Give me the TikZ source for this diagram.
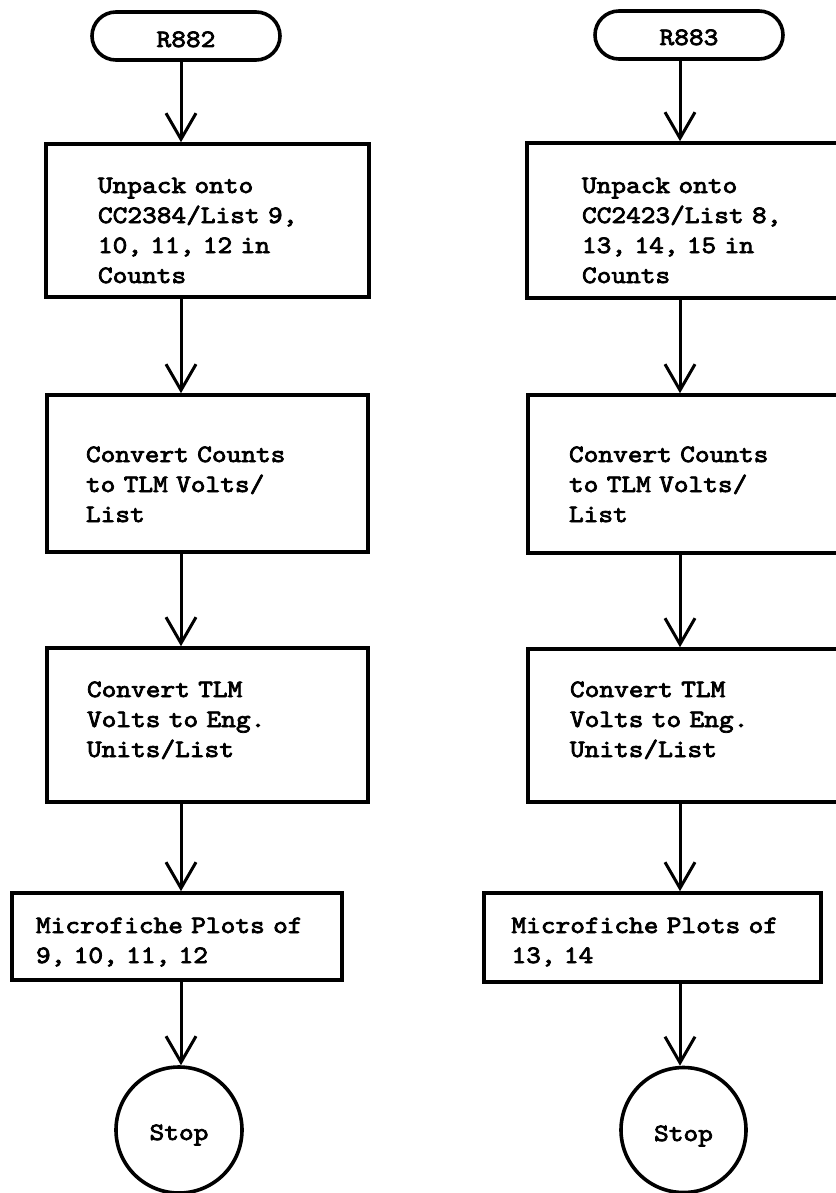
\documentclass[tikz,border=0pt]{standalone}
\usepackage{fontspec}
\newfontfamily\typefont[FakeStretch=1.12,FakeBold=3,WordSpace=1.12]{lmmono10-regular.otf}
\newcommand{\boxfont}{\typefont\fontsize{12.5}{15}\selectfont\spaceskip 7.35pt\relax}
\usetikzlibrary{positioning}
\usetikzlibrary{arrows.meta}
\tikzset{>={Straight Barb[length=13pt,width=15pt]}}

\begin{document}
\begin{tikzpicture}[
    x=0.5pt, y=-0.5pt,
    every node/.style={font=\boxfont},
    terminal/.style={
        draw,
        line width=1.8pt,
        rectangle,
        rounded corners=12pt,
        minimum width=94pt,
        minimum height=24pt,
        inner sep=0pt,
        text depth=0pt
    },
    process/.style={
        draw,
        line width=1.8pt,
        rectangle,
        align=left,
        inner sep=0pt,
        text height=0pt
    },
    halt/.style={
        draw,
        line width=1.8pt,
        circle,
        minimum size=63pt,
        inner sep=0pt,
        text depth=0pt
    },
    flow/.style={->, line width=1.5pt}
]

\useasboundingbox (0,0) rectangle (835,1193);

\node[terminal, text height=11pt] (startA) at (186,36) {R882};
\node[terminal, text height=10pt] (startB) at (689,35) {R883};

\node[process, minimum width=161.5pt, minimum height=76.5pt, text width=109.5pt, text depth=27.5pt] (unpackA) at (207.5,220.5) {Unpack onto\\CC2384/List 9,\\10, 11, 12 in\\Counts};
\node[process, minimum width=161.5pt, minimum height=77.5pt, text width=106.5pt, text depth=27.5pt] (unpackB) at (688.5,220.5) {Unpack onto\\CC2423/List 8,\\13, 14, 15 in\\Counts};

\node[process, minimum width=160.5pt, minimum height=78.5pt, text width=121.5pt, text depth=11.5pt] (convA) at (207.5,473.5) {Convert Counts\\to TLM Volts/\\List};
\node[process, minimum width=161.5pt, minimum height=79pt, text width=120.5pt, text depth=12pt] (convB) at (689.5,474) {Convert Counts\\to TLM Volts/\\List};

\node[process, minimum width=160.5pt, minimum height=77pt, text width=120.5pt, text depth=28pt] (engA) at (207.5,725) {Convert TLM\\Volts to Eng.\\Units/List};
\node[process, minimum width=161.5pt, minimum height=76.5pt, text width=119.5pt, text depth=28.5pt] (engB) at (689.5,725.5) {Convert TLM\\Volts to Eng.\\Units/List};

\node[process, minimum width=165pt, minimum height=43.5pt, text width=141pt, text depth=3.5pt] (plotA) at (177,936.5) {Microfiche Plots of\\9, 10, 11, 12};
\node[process, minimum width=168.5pt, minimum height=44.5pt, text width=141pt, text depth=4.5pt] (plotB) at (652.5,937.5) {Microfiche Plots of\\13, 14};

\node[halt, text height=10pt] (stopA) at (179,1130) {Stop};
\node[halt, minimum size=62.5pt, text height=11pt] (stopB) at (683.5,1130) {Stop};

\coordinate (axisA) at (181,0);
\coordinate (axisB) at (680,0);

\draw[flow] (startA.south -| axisA) -- (unpackA.north -| axisA);
\draw[flow] (unpackA.south -| axisA) -- (convA.north -| axisA);
\draw[flow] (convA.south -| axisA) -- (engA.north -| axisA);
\draw[flow] (engA.south -| axisA) -- (plotA.north -| axisA);
\draw[flow] (plotA.south -| axisA) -- (stopA.north -| axisA);

\draw[flow] (startB.south -| axisB) -- (unpackB.north -| axisB);
\draw[flow] (unpackB.south -| axisB) -- (convB.north -| axisB);
\draw[flow] (convB.south -| axisB) -- (engB.north -| axisB);
\draw[flow] (engB.south -| axisB) -- (plotB.north -| axisB);
\draw[flow] (plotB.south -| axisB) -- (stopB.north -| axisB);

\end{tikzpicture}
\end{document}
